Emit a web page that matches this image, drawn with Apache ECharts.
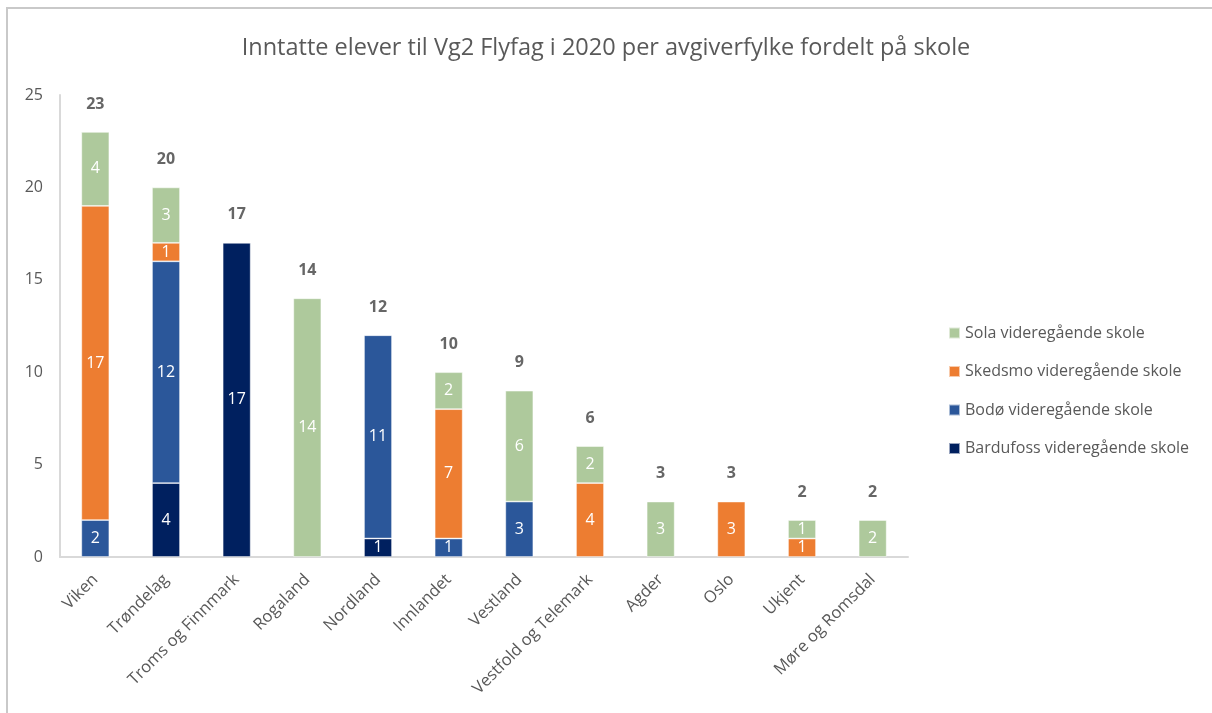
<!DOCTYPE html>
<html>
<head>
<meta charset="utf-8">
<script src="https://cdn.jsdelivr.net/npm/echarts@6/dist/echarts.min.js"></script>
<style>
  html, body { margin: 0; padding: 0; background: #fff; }
  #frame { position: absolute; left: 6px; top: 7px; width: 1220px; height: 720px; border-left: 2px solid #c9c9c9; border-top: 2px solid #c9c9c9; }
  #chart { width: 1212px; height: 713px; position: absolute; left: 0; top: 0; }
</style>
</head>
<body>
<div id="frame"></div>
<div id="chart"></div>
<script>
// Fylker (categories) and per-school intake counts
const categories = ['Viken', 'Trøndelag', 'Troms og Finnmark', 'Rogaland', 'Nordland', 'Innlandet',
  'Vestland', 'Vestfold og Telemark', 'Agder', 'Oslo', 'Ukjent', 'Møre og Romsdal'];
const bardufoss = [0, 4, 17, 0, 1, 0, 0, 0, 0, 0, 0, 0];
const bodo      = [2, 12, 0, 0, 11, 1, 3, 0, 0, 0, 0, 0];
const skedsmo   = [17, 1, 0, 0, 0, 7, 0, 4, 0, 3, 1, 0];
const sola      = [4, 3, 0, 14, 0, 2, 6, 2, 3, 0, 1, 2];
const totals    = [23, 20, 17, 14, 12, 10, 9, 6, 3, 3, 2, 2];
const yTicks    = [0, 5, 10, 15, 20, 25];

const FONT = '"Open Sans", sans-serif';
const TEXT = '#595959';

function segment(name, values, color) {
  return {
    name: name,
    type: 'bar',
    stack: 'total',
    barWidth: 28,
    data: values.map(v => v === 0 ? null : v),
    itemStyle: { color: color, borderColor: 'rgba(255,255,255,0.6)', borderWidth: 0.8 },
    label: {
      show: true,
      position: 'inside',
      color: '#ffffff',
      fontFamily: FONT,
      fontSize: 16
    }
  };
}

const chart = echarts.init(document.getElementById('chart'), null, { renderer: 'canvas' });
chart.setOption({
  backgroundColor: 'transparent',
  animation: false,
  title: {
    text: 'Inntatte elever til Vg2 Flyfag i 2020 per avgiverfylke fordelt på skole',
    left: 'center',
    top: 31,
    textStyle: { color: TEXT, fontFamily: FONT, fontWeight: 'normal', fontSize: 23.5 }
  },
  legend: {
    orient: 'vertical',
    left: 943,
    top: 320,
    itemWidth: 11,
    itemHeight: 11,
    itemGap: 22.5,
    icon: 'rect',
    data: ['Sola videregående skole', 'Skedsmo videregående skole', 'Bodø videregående skole', 'Bardufoss videregående skole'],
    textStyle: { color: TEXT, fontFamily: FONT, fontSize: 16 }
  },
  grid: { left: 60, right: 304, top: 95, bottom: 156, containLabel: false },
  xAxis: {
    type: 'category',
    data: categories,
    axisLine: { lineStyle: { color: '#d9d9d9', width: 2 } },
    axisTick: { show: false },
    axisLabel: { interval: 0, rotate: 45, color: TEXT, fontFamily: FONT, fontSize: 16.5, margin: 20 }
  },
  yAxis: {
    type: 'value',
    min: yTicks[0],
    max: yTicks[yTicks.length - 1],
    interval: 5,
    axisLine: { show: true, lineStyle: { color: '#d9d9d9', width: 2 } },
    axisTick: { show: false },
    splitLine: { show: false },
    axisLabel: { color: TEXT, fontFamily: FONT, fontSize: 16, margin: 17 }
  },
  series: [
    segment('Bardufoss videregående skole', bardufoss, '#00205f'),
    segment('Bodø videregående skole', bodo, '#2b579a'),
    segment('Skedsmo videregående skole', skedsmo, '#ed7d31'),
    segment('Sola videregående skole', sola, '#aec99c'),
    {
      name: 'Totalt',
      type: 'scatter',
      data: totals,
      symbolSize: 0,
      silent: true,
      label: {
        show: true,
        position: 'top',
        distance: 20,
        color: '#404040',
        fontFamily: FONT,
        fontWeight: 'bold',
        fontSize: 16
      }
    }
  ]
});
</script>
</body>
</html>
